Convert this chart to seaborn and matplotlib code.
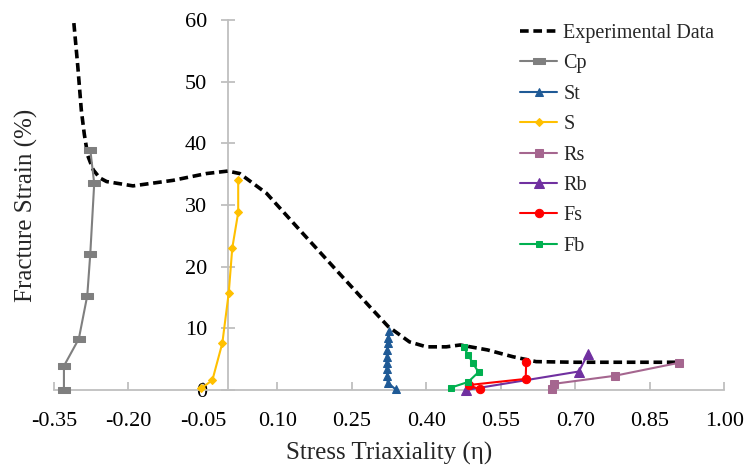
import numpy as np
import pandas as pd
import matplotlib
matplotlib.use("Agg")
import matplotlib.pyplot as plt
import seaborn as sns
from matplotlib.path import Path

# ---------------- data ----------------
exp_eta = [-0.310, -0.302, -0.295, -0.289, -0.282, -0.271, -0.258, -0.244, -0.191, -0.110, -0.043,
           0.000, 0.024, 0.078, 0.151, 0.219, 0.286, 0.323, 0.366, 0.400, 0.440,
           0.468, 0.523, 0.574, 0.621, 0.700, 0.800, 0.906]
exp_strain = [59.5, 52.4, 45.4, 41.5, 38.0, 35.7, 34.4, 33.8, 33.1, 34.0, 35.1,
              35.5, 35.1, 31.9, 25.4, 19.4, 13.5, 10.3, 7.8, 7.0, 7.0,
              7.3, 6.5, 5.4, 4.6, 4.5, 4.5, 4.5]

cp_eta = [-0.277, -0.269, -0.277, -0.283, -0.300, -0.330, -0.330]
cp_strain = [39.0, 33.5, 22.0, 15.3, 8.3, 3.9, 0.0]

st_eta = [0.325, 0.323, 0.322, 0.321, 0.320, 0.320, 0.320, 0.321, 0.322, 0.338]
st_strain = [9.6, 8.5, 7.6, 6.5, 5.4, 4.4, 3.4, 2.3, 1.2, 0.1]

s_eta = [0.021, 0.021, 0.009, 0.002, -0.011, -0.031, -0.053]
s_strain = [34.0, 28.8, 23.0, 15.8, 7.6, 1.6, 0.3]

rs_eta = [0.653, 0.657, 0.779, 0.908]
rs_strain = [0.1, 1.0, 2.3, 4.4]

rb_eta = [0.480, 0.707, 0.725]
rb_strain = [0.0, 3.0, 5.8]

fs_eta = [0.508, 0.485, 0.600, 0.601]
fs_strain = [0.1, 0.8, 1.8, 4.5]

fb_eta = [0.475, 0.484, 0.494, 0.505, 0.484, 0.450]
fb_strain = [7.0, 5.7, 4.3, 2.9, 1.3, 0.4]

x_ticks = [-0.35, -0.20, -0.05, 0.10, 0.25, 0.40, 0.55, 0.70, 0.85, 1.00]
y_ticks = [0, 10, 20, 30, 40, 50, 60]

# ---------------- style ----------------
sns.set_style("white")
plt.rcParams['font.family'] = ['Liberation Serif', 'DejaVu Serif']

fig = plt.figure(figsize=(7.48, 4.68), dpi=100)
ax = fig.add_axes([54 / 748, 1 - 390 / 468, (724.3 - 54) / 748, (390 - 20) / 468])

axis_grey = '#BFBFBF'

# Experimental data (dashed)
sns.lineplot(x=exp_eta, y=exp_strain, sort=False, estimator=None, ax=ax,
             color='black', linewidth=2.6, label='Experimental Data', zorder=2)
exp_line = ax.lines[-1]
exp_line.set_dashes([2.4, 1.3])

# Cp marker: wide rounded-looking rectangle
cp_marker = Path([(-1, -0.55), (1, -0.55), (1, 0.55), (-1, 0.55), (-1, -0.55)],
                 [Path.MOVETO, Path.LINETO, Path.LINETO, Path.LINETO, Path.CLOSEPOLY])

series = [
    ('Cp', cp_eta, cp_strain, '#7F7F7F', cp_marker, 8.0),
    ('St', st_eta, st_strain, '#1F5A96', '^', 5.5),
    ('S', s_eta, s_strain, '#FFC000', 'D', 4.0),
    ('Rs', rs_eta, rs_strain, '#A5668F', 's', 5.5),
    ('Rb', rb_eta, rb_strain, '#7030A0', '^', 6.5),
    ('Fs', fs_eta, fs_strain, '#FF0000', 'o', 6.0),
    ('Fb', fb_eta, fb_strain, '#00B050', 's', 5.0),
]
for name, xs, ys, col, mk, ms in series:
    sns.lineplot(x=xs, y=ys, sort=False, estimator=None, ax=ax, color=col,
                 linewidth=1.5, marker=mk, markersize=ms, markeredgecolor=col,
                 markerfacecolor=col, label=name, zorder=3)

for ln in ax.lines:
    ln.set_clip_on(False)

# ---------------- axes ----------------
ax.set_xlim(-0.35, 1.0)
ax.set_ylim(0, 60)
for side in ['top', 'right']:
    ax.spines[side].set_visible(False)
ax.spines['left'].set_position(('data', 0))
ax.spines['bottom'].set_position(('data', 0))
for side in ['left', 'bottom']:
    ax.spines[side].set_color(axis_grey)
    ax.spines[side].set_linewidth(1.3)
    ax.spines[side].set_zorder(1)

ax.set_xticks(x_ticks)
ax.set_xticklabels([f"{v:.2f}" for v in x_ticks])
ax.set_yticks(y_ticks)
ax.set_yticklabels([str(v) for v in y_ticks])
ax.tick_params(axis='y', direction='inout', length=10, width=1.3, color=axis_grey,
               labelsize=16, pad=10, labelcolor='black', left=True)
ax.tick_params(axis='x', direction='in', length=6, width=1.3, color=axis_grey,
               labelsize=16, pad=16, labelcolor='black', bottom=True)

ax.set_xlabel('Stress Triaxiality (η)', fontsize=18, labelpad=8)
ax.set_ylabel('Fracture Strain (%)', fontsize=18)
ax.yaxis.set_label_coords(38 / 748, 1 - 205 / 468, transform=fig.transFigure)

ax.grid(False)

handles, labels = ax.get_legend_handles_labels()
leg = ax.legend(handles, labels, loc='upper left', bbox_to_anchor=(520 / 748, 1 - 24 / 468),
                bbox_transform=fig.transFigure, frameon=False, fontsize=14.5,
                handlelength=1.85, handletextpad=0.3, labelspacing=0.56,
                borderpad=0, borderaxespad=0)

fig.savefig('out.png', dpi=100)
